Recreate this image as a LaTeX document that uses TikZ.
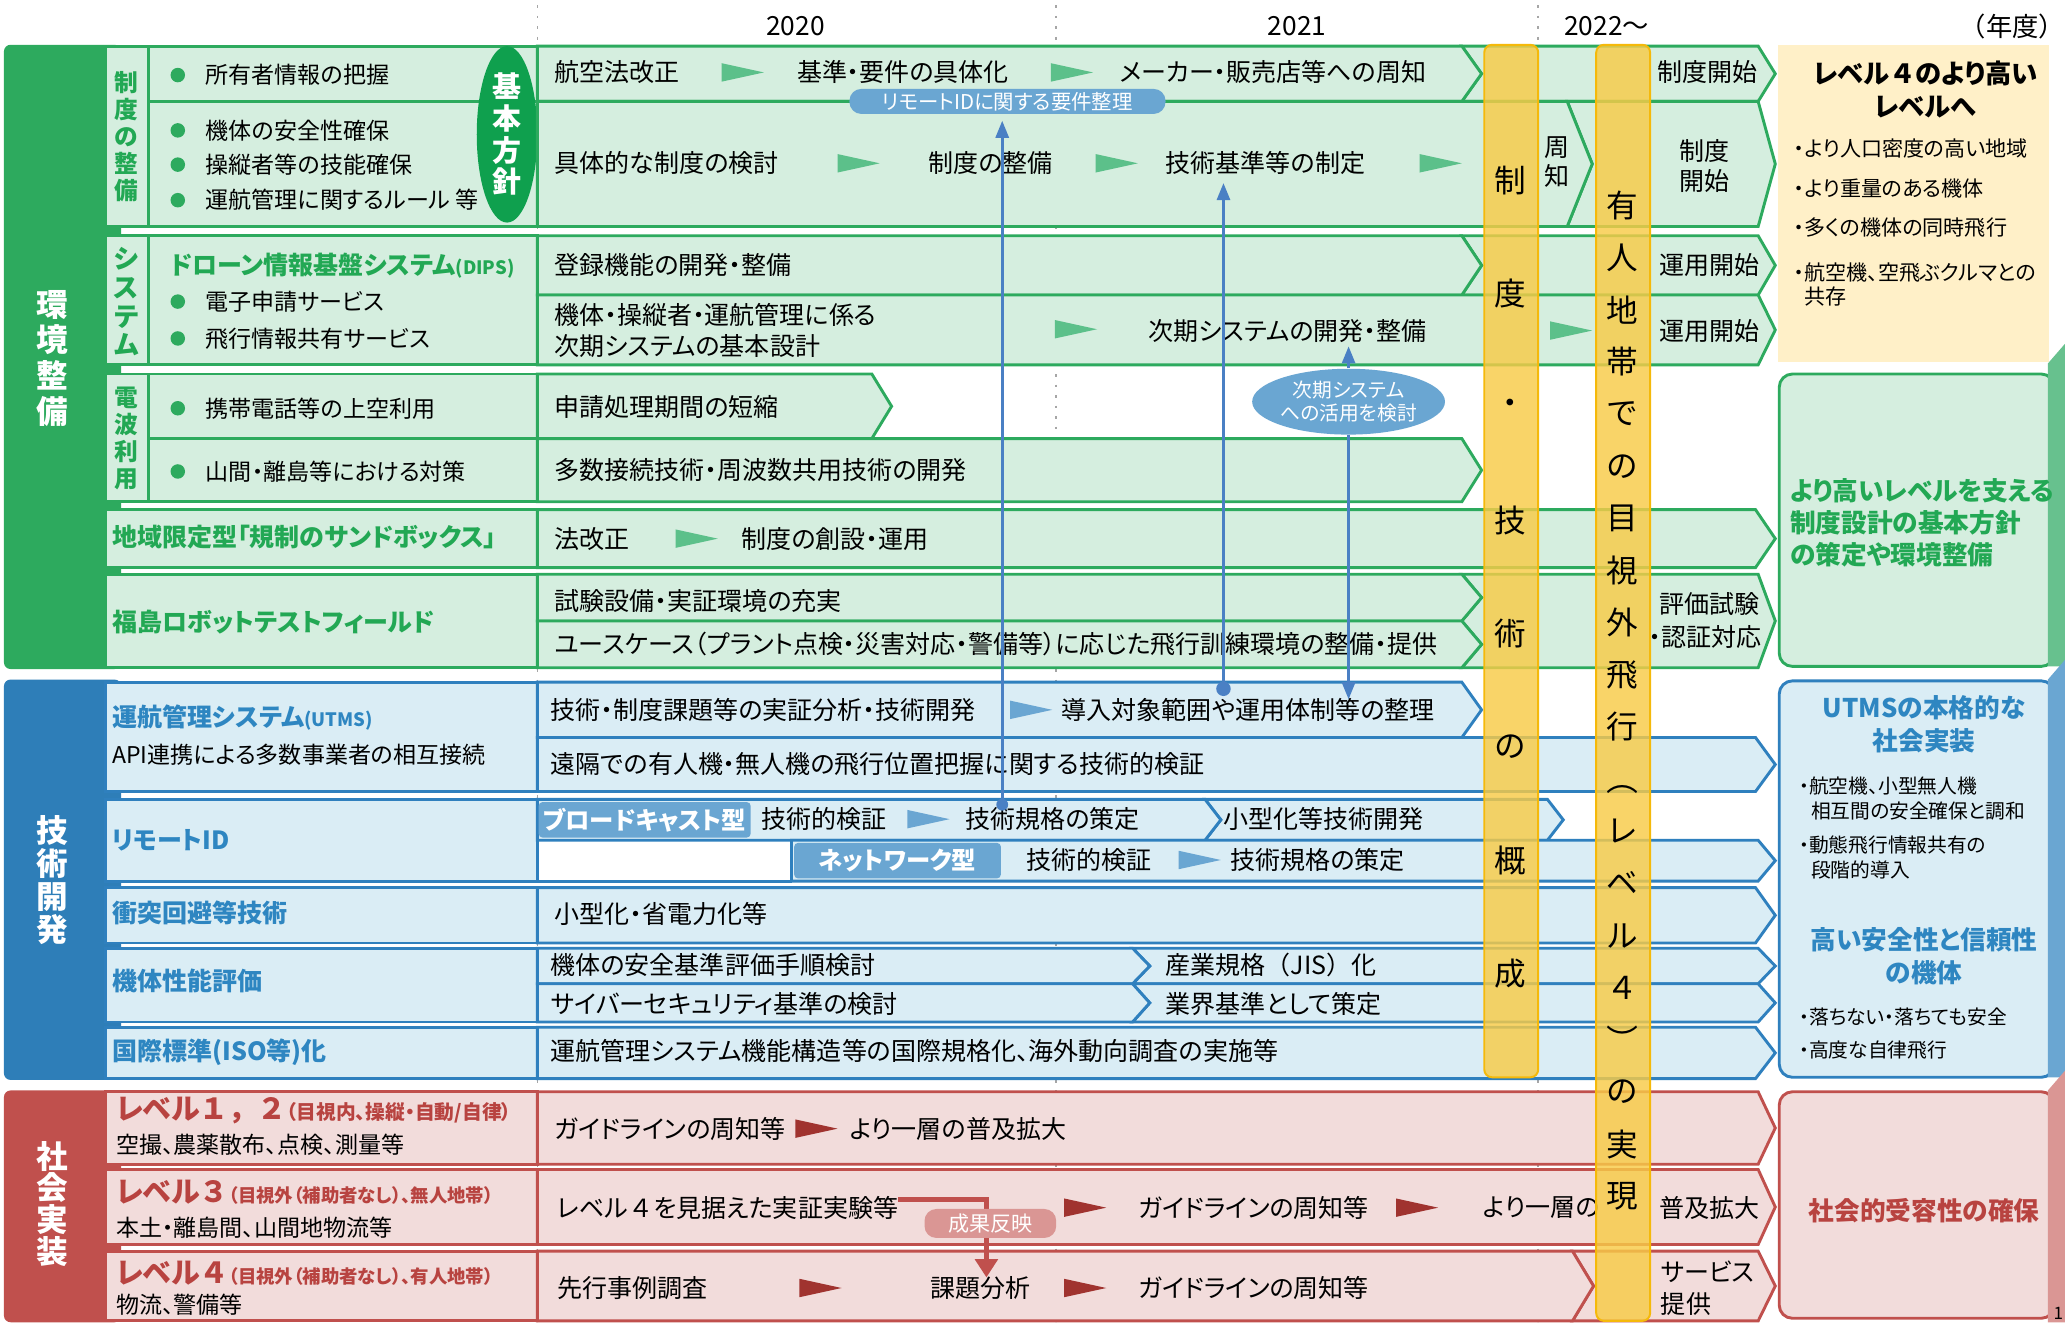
\documentclass[tikz,border=0pt]{standalone}
\usepackage{fontspec}
\setmainfont{Noto Sans CJK JP}[RawFeature=+palt]
\newfontfamily\jpw{Noto Sans CJK JP}
\usetikzlibrary{arrows.meta,shapes.geometric}
\definecolor{gD}{HTML}{2DAA5E}
\definecolor{gF}{HTML}{D5EEDF}
\definecolor{gT}{HTML}{22A854}
\definecolor{gE}{HTML}{0FA04E}
\definecolor{gTri}{HTML}{5CC08A}
\definecolor{gStrip}{HTML}{67C18E}
\definecolor{bD}{HTML}{2E7EB8}
\definecolor{bB}{HTML}{2F80BE}
\definecolor{bF}{HTML}{DAEDF5}
\definecolor{bT}{HTML}{2E86C1}
\definecolor{bTag}{HTML}{6AA6D2}
\definecolor{bLine}{HTML}{4A80C4}
\definecolor{rD}{HTML}{C0504D}
\definecolor{rF}{HTML}{F2DCDB}
\definecolor{rT}{HTML}{B84340}
\definecolor{rTri}{HTML}{A0332F}
\definecolor{rTag}{HTML}{DA9694}
\definecolor{yBar}{HTML}{F8CB47}
\definecolor{yBorder}{HTML}{F5B90A}
\definecolor{yBox}{HTML}{FFF0C8}
\newcommand{\chevR}[6]{\filldraw[#1] (#2,#3) -- ({#4-#6},#3) -- (#4,{(#3+#5)/2}) -- ({#4-#6},#5) -- (#2,#5) -- cycle;}
\newcommand{\chevN}[7]{\filldraw[#1] (#2,#3) -- ({#4-#6},#3) -- (#4,{(#3+#5)/2}) -- ({#4-#6},#5) -- (#2,#5) -- ({#2+#7},{(#3+#5)/2}) -- cycle;}
\newcommand{\tri}[3]{\fill[#1] (#2,{#3-7}) -- ({#2+32},#3) -- (#2,{#3+7}) -- cycle;}
\begin{document}
\begin{tikzpicture}[x=1pt,y=-1pt,line join=miter,
  gbox/.style={fill=gF,draw=gD,line width=2.2pt},
  bbox/.style={fill=bF,draw=bB,line width=2.2pt},
  rbox/.style={fill=rF,draw=rD,line width=2.2pt},
  tl/.style={anchor=west,inner sep=0pt,font=\fontsize{19}{24}\selectfont},
  it/.style={anchor=west,inner sep=0pt,font=\fontsize{17.5}{21}\selectfont},
  gl/.style={anchor=west,inner sep=0pt,font=\fontsize{19}{22}\selectfont\bfseries,text=gT},
  bl/.style={anchor=west,inner sep=0pt,font=\fontsize{19}{22}\selectfont\bfseries,text=bT},
  rl/.style={anchor=west,inner sep=0pt,text=rT},
  vl/.style={align=center,inner sep=0pt,text=gT},
  blk/.style={align=center,inner sep=0pt,text=white},
  yr/.style={inner sep=0pt,font=\fontsize{20}{22}\selectfont},
  bullet/.style={anchor=west,inner sep=0pt,font=\fontsize{16}{19}\selectfont,align=left},
  tagb/.style={fill=bTag,text=white,rounded corners=3pt,inner sep=0pt,font=\fontsize{18.5}{20}\selectfont\bfseries},
  conn/.style={draw=bLine,line width=2pt,-{Triangle[width=10pt,length=13pt]}},
  rconn/.style={draw=rD,line width=3.5pt,-{Triangle[width=17pt,length=14pt]}},
  bartx/.style={inner sep=0pt,font=\fontsize{24}{26}\selectfont}]
\useasboundingbox (0,0) rectangle (1568,1004);
\fill[white] (0,0) rectangle (1568,1004);
% year dotted lines
\foreach \x in {408,802,1168} \draw[gray!70,line width=1.2pt,dash pattern=on 2pt off 6pt] (\x,4) -- (\x,1004);
\node[yr] (y0) at (604,20) {2020};
\node[yr] (y1) at (985,20) {2021};
\node[yr] (y2) at (1220,20) {2022～};
\node[yr] (y3) at (1528,20) {\jpw （年度）};

% ===== left blocks
\fill[gD,rounded corners=5pt] (3,34) rectangle (92,508);
\fill[bD,rounded corners=5pt] (3,516) rectangle (92,820);
\fill[rD,rounded corners=5pt] (3,828) -- (3,1004) -- (92,1004) -- (92,828) -- cycle;

% ===== green section
\filldraw[gbox] (80,35) rectangle (113,172);
\filldraw[gbox] (113,35) rectangle (408,77);
\filldraw[gbox] (113,77) rectangle (408,172);
\fill[gE] (385,102) ellipse (23 and 67);
\chevN{gbox}{1110}{35}{1348}{77}{13}{15}
\chevR{gbox}{408}{35}{1125}{77}{15}
\chevN{gbox}{1190}{77}{1348}{172}{13}{19}
\chevR{gbox}{408}{77}{1209}{172}{19}

\filldraw[gbox] (80,179) rectangle (113,277);
\filldraw[gbox] (113,179) rectangle (408,277);
\chevN{gbox}{1110}{179}{1348}{224}{13}{15}
\chevR{gbox}{408}{179}{1125}{224}{15}
\chevR{gbox}{408}{224}{1348}{277}{13}

\filldraw[gbox] (80,284) rectangle (113,381);
\filldraw[gbox] (113,284) rectangle (408,333);
\filldraw[gbox] (113,333) rectangle (408,381);
\chevR{gbox}{408}{284}{677}{333}{15}
\chevR{gbox}{408}{333}{1125}{381}{15}

\filldraw[gbox] (80,387) rectangle (408,431);
\chevR{gbox}{408}{387}{1348}{431}{15}

\filldraw[gbox] (80,436) rectangle (408,507);
\filldraw[gbox] (1110,436) -- (1335,436) -- (1348,471.5) -- (1335,507) -- (1110,507) -- (1125,489.25) -- (1110,471.5) -- (1125,453.75) -- cycle;
\chevR{gbox}{408}{436}{1125}{471.5}{15}
\chevR{gbox}{408}{471.5}{1125}{507}{15}

% ===== blue section
\filldraw[bbox] (80,518) rectangle (408,601);
\chevR{bbox}{408}{518}{1125}{560}{15}
\chevR{bbox}{408}{560}{1348}{601}{15}

\filldraw[bbox] (80,607) rectangle (408,669);
\chevN{bbox}{915}{607}{1187}{638}{12}{12}
\chevR{bbox}{408}{607}{927}{638}{12}
\chevR{bbox}{601}{638}{1348}{669}{13}
\draw[bB,line width=2.2pt] (408,669) -- (601,669);

\filldraw[bbox] (80,674) rectangle (408,716);
\chevR{bbox}{408}{674}{1348}{716}{15}

\filldraw[bbox] (80,720) rectangle (408,776);
\chevN{bbox}{860}{720}{1348}{747}{13}{13}
\chevN{bbox}{860}{747}{1348}{776}{13}{13}
\chevR{bbox}{408}{720}{873}{747}{13}
\chevR{bbox}{408}{747}{873}{776}{13}

\filldraw[bbox] (80,780) rectangle (408,819);
\chevR{bbox}{408}{780}{1348}{819}{15}

% ===== red section
\filldraw[rbox] (80,829) rectangle (408,884);
\chevR{rbox}{408}{829}{1348}{884}{13}
\filldraw[rbox] (80,888) rectangle (408,945);
\chevR{rbox}{408}{888}{1348}{945}{13}
\filldraw[rbox] (80,950) rectangle (408,1003);
\chevN{rbox}{1194}{950}{1348}{1003}{13}{16}
\chevR{rbox}{408}{950}{1210}{1003}{16}

% ===== right boxes
\fill[yBox] (1350,34) rectangle (1556,275);
\filldraw[gbox,rounded corners=10pt] (1351,284) rectangle (1560,506);
\filldraw[bbox,rounded corners=10pt] (1351,517) rectangle (1560,818);
\filldraw[rbox,rounded corners=10pt] (1351,829) rectangle (1560,1001);
\fill[gStrip] (1555,506) -- (1555,276) -- (1568,261) -- (1568,506) -- cycle;
\fill[bTag] (1555,818) -- (1555,516) -- (1568,501) -- (1568,818) -- cycle;
\fill[rTag] (1555,1004) -- (1555,828) -- (1568,813) -- (1568,1004) -- cycle;

% ===== triangles
\tri{gTri}{548}{55}\tri{gTri}{798}{55}
\tri{gTri}{636}{124}\tri{gTri}{832}{124}\tri{gTri}{1078}{124}
\tri{gTri}{801}{250}\tri{gTri}{1177}{251}
\tri{gTri}{513}{409}
\tri{bTag}{767}{539}\tri{bTag}{689}{622}\tri{bTag}{895}{653}
\tri{rTri}{604}{857}\tri{rTri}{808}{917}\tri{rTri}{1060}{917}
\tri{rTri}{607}{978}\tri{rTri}{808}{978}

% ===== block & column labels
\node[blk,font=\fontsize{24}{27}\selectfont\bfseries] (k1) at (40,272) {環\\境\\整\\備};
\node[blk,font=\fontsize{24}{25}\selectfont\bfseries] (k2) at (40,668) {技\\術\\開\\発};
\node[blk,font=\fontsize{24}{24}\selectfont\bfseries] (k3) at (40,914) {社\\会\\実\\装};
\node[vl,font=\fontsize{18}{20.5}\selectfont\bfseries] (v1) at (96,104) {制\\度\\の\\整\\備};
\node[vl,font=\fontsize{20}{22}\selectfont\bfseries] (v2) at (96,229) {シ\\ス\\テ\\ム};
\node[vl,font=\fontsize{18}{20.5}\selectfont\bfseries] (v3) at (96,333) {電\\波\\利\\用};
\node[blk,font=\fontsize{22}{24}\selectfont\bfseries] (kh) at (385,102) {基\\本\\方\\針};

% ===== item labels
\foreach \yy in {57,99,125,152,229,257,310,358} \fill[gD] (135,\yy) circle (5.5);
\node[it] (i1) at (156,57) {所有者情報の把握};
\node[it] (i2) at (156,99) {機体の安全性確保};
\node[it] (i3) at (156,125) {操縦者等の技能確保};
\node[it] (i4) at (156,152) {運航管理に関するルール 等};
\node[gl] (dips) at (129,202) {ドローン情報基盤システム{\fontsize{14}{16}\selectfont (DIPS)}};
\node[it] (i5) at (156,229) {電子申請サービス};
\node[it] (i6) at (156,257) {飛行情報共有サービス};
\node[it] (i7) at (156,310) {携帯電話等の上空利用};
\node[it] (i8) at (156,358) {山間・離島等における対策};
\node[gl] (g4) at (85,408) {地域限定型「規制のサンドボックス」};
\node[gl] (g5) at (85,472) {福島ロボットテストフィールド};
\node[bl] (b1) at (85,545) {運航管理システム{\fontsize{14}{16}\selectfont (UTMS)}};
\node[it] (b1s) at (85,573) {API連携による多数事業者の相互接続};
\node[bl] (b2) at (85,638) {リモートID};
\node[bl] (b3) at (85,693) {衝突回避等技術};
\node[bl] (b4) at (85,745) {機体性能評価};
\node[bl] (b5) at (85,799) {国際標準(ISO等)化};
\node[rl] (r1) at (88,843) {{\fontsize{22}{24}\selectfont\bfseries レベル{\jpw １，２}}{\fontsize{15}{18}\selectfont\bfseries （目視内、操縦・自動/自律）}};
\node[it] (r1s) at (88,869) {空撮、農薬散布、点検、測量等};
\node[rl] (r2) at (88,905) {{\fontsize{22}{24}\selectfont\bfseries レベル{\jpw ３}}{\fontsize{14}{18}\selectfont\bfseries （目視外（補助者なし）、無人地帯）}};
\node[it] (r2s) at (88,932) {本土・離島間、山間地物流等};
\node[rl] (r3) at (88,967) {{\fontsize{22}{24}\selectfont\bfseries レベル{\jpw ４}}{\fontsize{14}{18}\selectfont\bfseries （目視外（補助者なし）、有人地帯）}};
\node[it] (r3s) at (88,991) {物流、警備等};

% ===== timeline texts
\node[tl] (t1a) at (421,55) {航空法改正};
\node[tl] (t1b) at (605,55) {基準・要件の具体化};
\node[tl] (t1c) at (850,55) {メーカー・販売店等への周知};
\node[tl] (t1d) at (1258,55) {制度開始};
\node[tl] (t2a) at (421,124) {具体的な制度の検討};
\node[tl] (t2b) at (705,124) {制度の整備};
\node[tl] (t2c) at (885,124) {技術基準等の制定};
\node[tl,anchor=center,align=center,font=\fontsize{19}{22}\selectfont] (t2d) at (1182,123) {周\\知};
\node[tl,anchor=center,align=center,font=\fontsize{19}{23}\selectfont] (t2e) at (1294,126) {制度\\開始};
\node[tl] (t3a) at (421,201) {登録機能の開発・整備};
\node[tl] (t3b) at (1260,201) {運用開始};
\node[tl,align=left] (t4a) at (421,251) {機体・操縦者・運航管理に係る\\次期システムの基本設計};
\node[tl] (t4b) at (872,251) {次期システムの開発・整備};
\node[tl] (t4c) at (1260,251) {運用開始};
\node[tl] (t5a) at (421,309) {申請処理期間の短縮};
\node[tl] (t6a) at (421,357) {多数接続技術・周波数共用技術の開発};
\node[tl] (t7a) at (421,409) {法改正};
\node[tl] (t7b) at (563,409) {制度の創設・運用};
\node[tl] (t8a) at (421,456) {試験設備・実証環境の充実};
\node[tl] (t8b) at (421,489) {ユースケース（プラント点検・災害対応・警備等）に応じた飛行訓練環境の整備・提供};
\node[tl] (t8c) at (1260,459) {評価試験};
\node[tl] (t8d) at (1252,484) {・認証対応};

\node[tl] (u1a) at (418,539) {技術・制度課題等の実証分析・技術開発};
\node[tl] (u1b) at (806,539) {導入対象範囲や運用体制等の整理};
\node[tl] (u2a) at (418,580) {遠隔での有人機・無人機の飛行位置把握に関する技術的検証};
\node[tagb,minimum width=161pt,minimum height=27pt] (rid1) at (489.5,622.5) {ブロードキャスト型};
\node[tl] (u3a) at (578,622) {技術的検証};
\node[tl] (u3b) at (733,622) {技術規格の策定};
\node[tl] (u3c) at (929,622) {小型化等技術開発};
\node[tagb,minimum width=157pt,minimum height=27pt] (rid2) at (681.5,653.5) {ネットワーク型};
\node[tl] (u4a) at (779,653) {技術的検証};
\node[tl] (u4b) at (934,653) {技術規格の策定};
\node[tl] (u5a) at (421,694) {小型化・省電力化等};
\node[tl] (u6a) at (418,733) {機体の安全基準評価手順検討};
\node[tl] (u6b) at (885,733) {産業規格{\jpw （}JIS{\jpw ）}化};
\node[tl] (u7a) at (418,762) {サイバーセキュリティ基準の検討};
\node[tl] (u7b) at (885,762) {業界基準として策定};
\node[tl] (u8a) at (418,798) {運航管理システム機能構造等の国際規格化、海外動向調査の実施等};

\node[tl] (s1a) at (421,857) {ガイドラインの周知等};
\node[tl] (s1b) at (645,857) {より一層の普及拡大};
\node[tl] (s2a) at (423,917) {レベル{\jpw ４}を見据えた実証実験等};
\node[tl] (s2b) at (864,917) {ガイドラインの周知等};
\node[tl] (s2c) at (1126,917) {より一層の};
\node[tl] (s2d) at (1260,917) {普及拡大};
\node[tl] (s3a) at (423,978) {先行事例調査};
\node[tl] (s3b) at (706,978) {課題分析};
\node[tl] (s3c) at (864,978) {ガイドラインの周知等};
\node[tl,align=left] (s3d) at (1261,978) {サービス\\提供};

% ===== right box texts
\node[inner sep=0pt,align=center,font=\fontsize{20}{25}\selectfont\bfseries] (o1) at (1462,68) {レベル{\jpw ４}のより高い\\レベルへ};
\node[bullet] (o1a) at (1362,113) {・より人口密度の高い地域};
\node[bullet] (o1b) at (1362,143) {・より重量のある機体};
\node[bullet] (o1c) at (1362,173) {・多くの機体の同時飛行};
\node[bullet,font=\fontsize{16}{18}\selectfont] (o1d) at (1362,216) {・航空機、空飛ぶクルマとの\\\hspace*{8pt}共存};
\node[anchor=west,inner sep=0pt,align=left,text=gT,font=\fontsize{19.5}{24}\selectfont\bfseries] (o2) at (1359,397) {より高いレベルを支える\\制度設計の基本方針\\の策定や環境整備};
\node[inner sep=0pt,align=center,text=bT,font=\fontsize{19.5}{25}\selectfont\bfseries] (o3) at (1461,550) {UTMSの本格的な\\社会実装};
\node[bullet,font=\fontsize{15}{19}\selectfont] (o3a) at (1366,606) {・航空機、小型無人機\\\hspace*{9pt}相互間の安全確保と調和};
\node[bullet,font=\fontsize{15}{19}\selectfont] (o3b) at (1366,651) {・動態飛行情報共有の\\\hspace*{9pt}段階的導入};
\node[inner sep=0pt,align=center,text=bT,font=\fontsize{19.5}{25}\selectfont\bfseries] (o3c) at (1461,726) {高い安全性と信頼性\\の機体};
\node[bullet,font=\fontsize{15}{19}\selectfont] (o3d) at (1366,772) {・落ちない・落ちても安全};
\node[bullet,font=\fontsize{15}{19}\selectfont] (o3e) at (1366,797) {・高度な自律飛行};
\node[inner sep=0pt,text=rT,font=\fontsize{19.5}{24}\selectfont\bfseries] (o4) at (1461,919) {社会的受容性の確保};
\node[inner sep=0pt,font=\fontsize{13}{14}\selectfont] (pg) at (1563,997) {1};

% ===== yellow bars
\filldraw[fill=yBar,fill opacity=0.82,draw=yBorder,line width=1.5pt,rounded corners=6pt] (1127,34) rectangle (1168,818);
\filldraw[fill=yBar,fill opacity=0.82,draw=yBorder,line width=1.5pt,rounded corners=6pt] (1212,34) rectangle (1253,1003);
\foreach \c [count=\i from 0] in {制,度,・,技,術,の,概,成}
  \node[bartx] (ba\i) at (1147,{137+86*\i}) {\c};
\foreach \c/\r [count=\i from 0] in {有/0,人/0,地/0,帯/0,で/0,の/0,目/0,視/0,外/0,飛/0,行/0,（/-90,レ/0,ベ/0,ル/0,４/0,）/-90,の/0,実/0,現/0}
  \node[bartx,rotate=\r] (bb\i) at (1232,{156+39.6*\i}) {\jpw\c};

% ===== connectors
\node[fill=bTag,text=white,rounded corners=9pt,inner sep=0pt,minimum width=240pt,minimum height=19pt,font=\fontsize{15.5}{17}\selectfont] (rid) at (765,77) {リモートIDに関する要件整理};
\coordinate (d1) at (761,611);
\coordinate (d2) at (929,523);
\coordinate (a2) at (929,139);
\draw[conn,shorten >=5pt] (d1) -- (d1 |- rid.south);
\draw[conn] (d2) -- (a2);
\fill[bLine] (d1) circle (4.5);
\fill[bLine] (d2) circle (5.5);
\node[ellipse,fill=bTag,text=white,inner sep=0pt,minimum width=124pt,minimum height=50pt,align=center,font=\fontsize{15}{18}\selectfont] (jiki) at (1024,305) {次期システム\\への活用を検討};
\coordinate (a3u) at (1024,263);
\coordinate (a3d) at (1024,531);
\draw[conn] (jiki.north) -- (a3u);
\draw[conn] (jiki.south) -- (a3d);
\coordinate (c2) at (749,970);
\draw[rconn] ([yshift=6pt]s2a.east) -| (c2);
\node[fill=rTag,text=white,rounded corners=9pt,inner sep=0pt,minimum width=100pt,minimum height=22pt,font=\fontsize{16}{18}\selectfont] (kk) at (752,929) {成果反映};
\end{tikzpicture}
\end{document}
